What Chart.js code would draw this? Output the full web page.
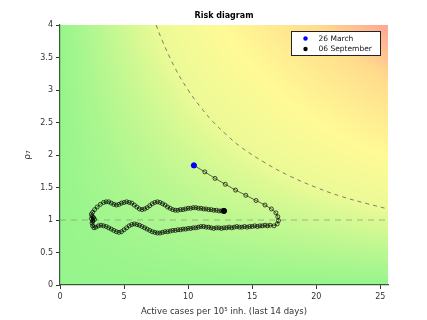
<!DOCTYPE html>
<html>
<head>
<meta charset="utf-8">
<script src="https://cdn.jsdelivr.net/npm/chart.js@4.4.1/dist/chart.umd.min.js"></script>
<style>
  html, body { margin: 0; padding: 0; background: #fff; }
  #wrap { width: 427px; height: 320px; }
</style>
</head>
<body>
<div id="wrap"><canvas id="mycanvas" width="427" height="320"></canvas></div>
<script>
// trajectory, 26 March -> 06 September (active cases per 1e5, rho7)
var casesX = [
  // March/April: falling
  10.45, 11.3, 12.1, 12.9, 13.7, 14.5, 15.3, 16.0, 16.5, 16.85, 17.0, 17.05, 16.95, 16.7,
  // lower arm, going left
  16.4, 16.2, 16.0, 15.8, 15.6, 15.4, 15.2, 15.0, 14.8, 14.6, 14.4, 14.2, 14.0, 13.8, 13.6,
  13.4, 13.2, 13.0, 12.8, 12.6, 12.4, 12.2, 12.0, 11.8, 11.6, 11.4, 11.2, 11.0, 10.8, 10.6,
  10.4, 10.2, 10.0, 9.8, 9.6, 9.4, 9.2, 9.0, 8.8, 8.6, 8.4, 8.2, 8.0, 7.8, 7.6, 7.4, 7.2,
  7.0, 6.8, 6.6, 6.4, 6.2, 6.0, 5.8, 5.6, 5.4, 5.2, 5.0, 4.8, 4.6, 4.4, 4.2, 4.0, 3.8,
  3.6, 3.4, 3.2,
  // turn around at the left
  3.0, 2.8, 2.65, 2.55, 2.5, 2.55, 2.45, 2.6, 2.7, 2.55, 2.6, 2.5, 2.45, 2.55, 2.7, 2.9, 3.15,
  // upper arm, going right
  3.4, 3.6, 3.8, 4.0, 4.2, 4.4, 4.6, 4.8, 5.0, 5.2, 5.4, 5.6, 5.8, 6.0, 6.2, 6.4, 6.6, 6.8,
  7.0, 7.2, 7.4, 7.6, 7.8, 8.0, 8.2, 8.4, 8.6, 8.8, 9.0, 9.2, 9.4, 9.6, 9.8, 10.0, 10.2,
  10.4, 10.6, 10.8, 11.0, 11.2, 11.4, 11.6, 11.8, 12.0, 12.2, 12.4, 12.6, 12.8
];
var rho7 = [
  1.84, 1.74, 1.64, 1.55, 1.46, 1.38, 1.30, 1.23, 1.17, 1.11, 1.05, 0.99, 0.94, 0.91,
  0.92, 0.91, 0.92, 0.91, 0.91, 0.90, 0.91, 0.90, 0.90, 0.89, 0.90, 0.89, 0.89, 0.90, 0.89,
  0.88, 0.89, 0.88, 0.88, 0.87, 0.88, 0.88, 0.87, 0.88, 0.89, 0.89, 0.90, 0.90, 0.89, 0.88,
  0.88, 0.87, 0.87, 0.86, 0.86, 0.85, 0.85, 0.84, 0.84, 0.83, 0.82, 0.82, 0.81, 0.80, 0.80, 0.81, 0.82,
  0.84, 0.86, 0.88, 0.90, 0.92, 0.93, 0.94, 0.93, 0.91, 0.88, 0.85, 0.82, 0.81, 0.82, 0.84, 0.86, 0.88,
  0.90, 0.91, 0.92,
  0.91, 0.89, 0.88, 0.91, 0.95, 0.99, 1.02, 1.04, 1.01, 0.98, 1.03, 1.06, 1.09, 1.12, 1.16, 1.20, 1.24,
  1.27, 1.28, 1.28, 1.26, 1.24, 1.23, 1.24, 1.26, 1.27, 1.28, 1.27, 1.26, 1.23, 1.20, 1.17, 1.16, 1.17, 1.19,
  1.22, 1.25, 1.27, 1.28, 1.27, 1.25, 1.23, 1.20, 1.18, 1.16, 1.15, 1.15, 1.16, 1.16, 1.17, 1.18, 1.18,
  1.19, 1.19, 1.18, 1.18, 1.17, 1.17, 1.16, 1.16, 1.15, 1.15, 1.14, 1.14, 1.14
];
var legendLabels = ["26 March", "06 September"];

// dashed risk level curve
var riskX = [7.5, 8, 9, 10, 11, 12, 13, 14, 16, 18, 20, 22, 24, 25.6];
var riskY = [4.0, 3.75, 3.33, 3.0, 2.73, 2.5, 2.31, 2.14, 1.88, 1.67, 1.5, 1.36, 1.25, 1.17];

var xTicks = [0, 5, 10, 15, 20, 25];
var yTicks = [0, 0.5, 1, 1.5, 2, 2.5, 3, 3.5, 4];

var FONT = "'DejaVu Sans', sans-serif";

function pts(xs, ys) {
  var out = [];
  for (var i = 0; i < xs.length; i++) out.push({x: xs[i], y: ys[i]});
  return out;
}
var traj = pts(casesX, rho7);
var last = traj.length - 1;

// background colour from cases * rho7
var stops = [
  [0, [150, 245, 140]],
  [30, [235, 250, 150]],
  [50, [255, 250, 150]],
  [80, [255, 220, 140]],
  [102, [255, 165, 150]]
];
function colorFor(v) {
  if (v <= stops[0][0]) return stops[0][1];
  for (var i = 1; i < stops.length; i++) {
    if (v <= stops[i][0]) {
      var a = stops[i - 1], b = stops[i];
      var t = (v - a[0]) / (b[0] - a[0]);
      return [a[1][0] + t * (b[1][0] - a[1][0]),
              a[1][1] + t * (b[1][1] - a[1][1]),
              a[1][2] + t * (b[1][2] - a[1][2])];
    }
  }
  return stops[stops.length - 1][1];
}

var bgPlugin = {
  id: 'bg',
  beforeDraw: function(chart) {
    var ctx = chart.ctx, a = chart.chartArea;
    var sx = chart.scales.x, sy = chart.scales.y;
    var w = Math.round(a.right - a.left), h = Math.round(a.bottom - a.top);
    var img = ctx.createImageData(w, h);
    for (var j = 0; j < h; j++) {
      var yv = sy.getValueForPixel(a.top + j + 0.5);
      for (var i = 0; i < w; i++) {
        var xv = sx.getValueForPixel(a.left + i + 0.5);
        var c = colorFor(xv * yv);
        var k = (j * w + i) * 4;
        img.data[k] = c[0]; img.data[k + 1] = c[1]; img.data[k + 2] = c[2]; img.data[k + 3] = 255;
      }
    }
    ctx.putImageData(img, Math.round(a.left), Math.round(a.top));
  },
  afterDraw: function(chart) {
    var ctx = chart.ctx, a = chart.chartArea;
    ctx.save();
    // title
    ctx.fillStyle = '#000';
    ctx.font = "bold 8px " + FONT;
    ctx.textAlign = 'center';
    ctx.textBaseline = 'middle';
    ctx.fillText('Risk diagram', (a.left + a.right) / 2, 16);
    // legend
    var bx = 291.5, by = 31.5, bw = 89, bh = 24;
    ctx.fillStyle = '#fff';
    ctx.fillRect(bx, by, bw, bh);
    ctx.strokeStyle = '#222';
    ctx.lineWidth = 1;
    ctx.strokeRect(bx, by, bw, bh);
    var cols = ['#0000ff', '#000000'];
    ctx.font = "7.5px " + FONT;
    ctx.textAlign = 'left';
    for (var i = 0; i < 2; i++) {
      var yy = by + 7 + i * 10.5;
      ctx.fillStyle = cols[i];
      ctx.beginPath();
      ctx.arc(bx + 14, yy, 2.2, 0, Math.PI * 2);
      ctx.fill();
      ctx.fillStyle = '#111';
      ctx.fillText(legendLabels[i], bx + 27, yy + 0.5);
    }
    ctx.restore();
  }
};

function plainTick(v) { return String(v); }
var tickStyle = {color: '#333', font: {family: FONT, size: 8}, callback: plainTick, padding: 3};

var ctx = document.getElementById('mycanvas');
var RiskChart = new Chart(ctx, {
  type: 'scatter',
  data: {
    datasets: [
      {
        label: 'start',
        data: [traj[0]],
        pointRadius: 2.6,
        pointBackgroundColor: '#0000ff',
        pointBorderColor: '#0000ff',
        order: 0
      },
      {
        label: 'end',
        data: [traj[last]],
        pointRadius: 2.6,
        pointBackgroundColor: '#000',
        pointBorderColor: '#000',
        order: 0
      },
      {
        label: 'trajectory',
        data: traj,
        showLine: true,
        borderColor: 'rgba(0,0,0,0.65)',
        borderWidth: 0.9,
        pointRadius: 2.0,
        pointBackgroundColor: 'rgba(0,0,0,0)',
        pointBorderColor: 'rgba(0,0,0,0.7)',
        pointBorderWidth: 1,
        order: 1
      },
      {
        label: 'risk',
        data: pts(riskX, riskY),
        showLine: true,
        tension: 0.4,
        borderColor: 'rgba(70,70,70,0.75)',
        borderWidth: 0.9,
        borderDash: [4, 4],
        pointRadius: 0,
        order: 2
      },
      {
        label: 'rho1',
        data: [{x: 0, y: 1}, {x: 25.6, y: 1}],
        showLine: true,
        borderColor: 'rgba(130,150,120,0.45)',
        borderWidth: 1.6,
        borderDash: [6, 5],
        pointRadius: 0,
        order: 3
      }
    ]
  },
  options: {
    animation: false,
    responsive: false,
    layout: {padding: {left: 18, right: 39, top: 25, bottom: 0}},
    plugins: {
      legend: {display: false},
      title: {display: false},
      tooltip: {enabled: false}
    },
    scales: {
      x: {
        type: 'linear',
        min: 0,
        max: 25.6,
        afterFit: function(s) { s.height = 35; },
        afterBuildTicks: function(s) { s.ticks = xTicks.map(function(v) { return {value: v}; }); },
        ticks: tickStyle,
        grid: {drawOnChartArea: false, drawTicks: true, tickLength: 4, color: '#333'},
        border: {display: true, color: '#3a5a3a', width: 1.2},
        title: {
          display: true,
          text: 'Active cases per 10\u2075 inh. (last 14 days)',
          color: '#333',
          font: {family: FONT, size: 8.5},
          padding: {top: 0, bottom: 3}
        }
      },
      y: {
        min: 0,
        max: 4,
        afterFit: function(s) { s.width = 42; },
        afterBuildTicks: function(s) { s.ticks = yTicks.map(function(v) { return {value: v}; }); },
        ticks: tickStyle,
        grid: {drawOnChartArea: false, drawTicks: true, tickLength: 4, color: '#333'},
        border: {display: true, color: '#3a5a3a', width: 1.2},
        title: {
          display: true,
          text: '\u03c1\u2087',
          color: '#333',
          font: {family: FONT, size: 9},
          padding: {top: 4, bottom: 0}
        }
      }
    }
  },
  plugins: [bgPlugin]
});
</script>
</body>
</html>
